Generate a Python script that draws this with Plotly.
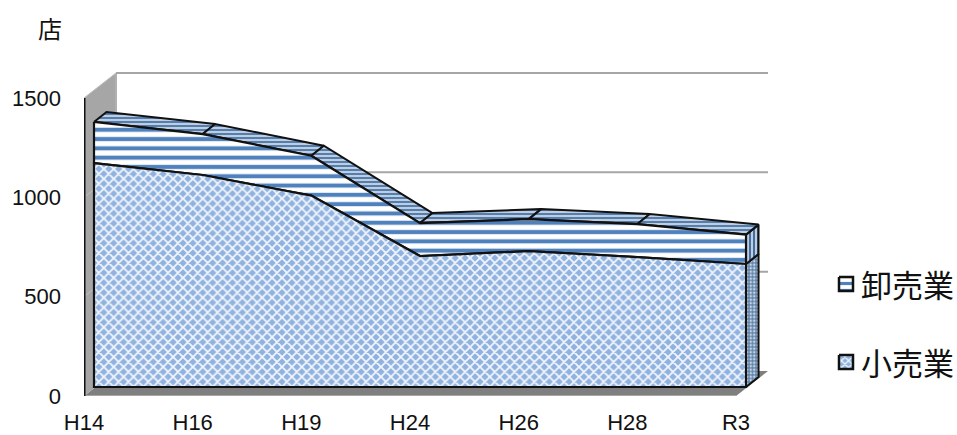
import plotly.graph_objects as go

categories = ["H14", "H16", "H19", "H24", "H26", "H28", "R3"]
retail = [1127, 1067, 963, 659, 684, 654, 619]
wholesale = [207, 206, 201, 166, 161, 166, 148]
y_ticks = [0, 500, 1000, 1500]
name_retail = "小売業"
name_wholesale = "卸売業"
unit_label = "店"

W, H = 957, 435
L, R, T, B = 84, 790, 60, 396
STEP_X = 108.67
STEP_Y = 0.1987
BLUE = "#4f81bd"
INK = "#111111"

# oblique depth offsets, in pixels
FRONT = (10, 9)
BACK = (22.5, 19)
WALL = (32, 25)


def ox(i, d):
    return i + d[0] / STEP_X


def oy(v, d):
    return v + d[1] / STEP_Y


def poly(xs, ys, color=None, line=None, width=0, pattern=None, axes=("x", "y")):
    kw = dict(x=xs + xs[:1], y=ys + ys[:1], mode="lines", fill="toself",
              hoverinfo="skip", showlegend=False, cliponaxis=False,
              xaxis=axes[0], yaxis=axes[1],
              line=dict(color=line or "rgba(0,0,0,0)", width=width, shape="linear"))
    if pattern:
        kw["fillpattern"] = pattern
        kw["fillcolor"] = pattern["bgcolor"]
    else:
        kw["fillcolor"] = color
    return go.Scatter(**kw)


def seg(xs, ys, color, width):
    return go.Scatter(x=xs, y=ys, mode="lines", hoverinfo="skip", showlegend=False,
                      cliponaxis=False, line=dict(color=color, width=width))


total = [a + b for a, b in zip(retail, wholesale)]
n = len(categories)
idx = list(range(n))
top_tick = max(y_ticks)
last = n - 1

stripes = dict(shape="-", size=9.3, solidity=0.44, fgcolor=BLUE, bgcolor="#ffffff", fgopacity=1)
lattice = dict(shape="x", size=7, solidity=0.45, fgcolor="#f2f6fc", bgcolor="#8fb2e0", fgopacity=1)
fine = dict(shape="-", size=4, solidity=0.5, fgcolor="#4f7fb8", bgcolor="#c4ccd6", fgopacity=1)
vfine = dict(shape="|", size=4, solidity=0.5, fgcolor="#3f6fa8", bgcolor="#c4ccd6", fgopacity=1)
dots = dict(shape=".", size=3.5, solidity=0.4, fgcolor="#c8d4e2", bgcolor="#5f82ab", fgopacity=1)

traces = []

# floor
traces.append(poly([0, last, ox(last, WALL), ox(0, WALL)],
                   [0, 0, oy(0, WALL), oy(0, WALL)], color="#7f7f7f"))
traces.append(seg([0, last], [0, 0], "#a6a6a6", 2))

# side wall and back wall edges
traces.append(poly([0, ox(0, WALL), ox(0, WALL), 0],
                   [top_tick, oy(top_tick, WALL), oy(0, WALL), 0], color="#a6a6a6"))
traces.append(seg([ox(0, WALL), ox(0, WALL)], [oy(0, WALL), oy(top_tick, WALL)], "#b0b0b0", 2))

# gridlines on the wall
for t in y_ticks[1:]:
    traces.append(seg([0, ox(0, WALL)], [t, oy(t, WALL)], "#bfbfbf", 1))
    traces.append(seg([ox(0, WALL), ox(last, WALL)], [oy(t, WALL), oy(t, WALL)], "#a6a6a6", 2))

traces.append(seg([0, 0], [0, top_tick], INK, 3))

# right side faces of the stack
traces.append(poly([ox(last, FRONT), ox(last, BACK), ox(last, BACK), ox(last, FRONT)],
                   [oy(0, FRONT), oy(0, BACK), oy(retail[last], BACK), oy(retail[last], FRONT)],
                   line=INK, width=2, pattern=dots))
traces.append(poly([ox(last, FRONT), ox(last, BACK), ox(last, BACK), ox(last, FRONT)],
                   [oy(retail[last], FRONT), oy(retail[last], BACK), oy(total[last], BACK), oy(total[last], FRONT)],
                   line=INK, width=2, pattern=vfine))

# top faces of the stack
for i in range(n - 1):
    traces.append(poly([ox(i, FRONT), ox(i + 1, FRONT), ox(i + 1, BACK), ox(i, BACK)],
                       [oy(total[i], FRONT), oy(total[i + 1], FRONT), oy(total[i + 1], BACK), oy(total[i], BACK)],
                       line=INK, width=2, pattern=fine))

# front faces of the stack
fx = [ox(i, FRONT) for i in idx]
traces.append(poly(fx + fx[::-1],
                   [oy(v, FRONT) for v in total] + [oy(v, FRONT) for v in retail[::-1]],
                   line=INK, width=2.2, pattern=stripes))
traces.append(poly(fx + fx[::-1],
                   [oy(v, FRONT) for v in retail] + [oy(0, FRONT)] * n,
                   line=INK, width=2.2, pattern=lattice))

# legend keys, on a full-page pixel subplot
px = ("x2", "y2")
traces.append(poly([839, 853, 853, 839], [277, 277, 291, 291], line=INK, width=2.5,
                   pattern=dict(stripes, size=7, solidity=0.45), axes=px))
traces.append(poly([839, 853, 853, 839], [355, 355, 369, 369], line=INK, width=2.5,
                   pattern=dict(lattice, size=5), axes=px))

fig = go.Figure(traces)

text_cjk = "Noto Sans CJK JP"
text_font = dict(family=text_cjk, size=31, color="#111111")
fig.add_annotation(x=859, y=283, xref="x2", yref="y2", text=name_wholesale, showarrow=False,
                   xanchor="left", yanchor="middle", font=text_font)
fig.add_annotation(x=859, y=361, xref="x2", yref="y2", text=name_retail, showarrow=False,
                   xanchor="left", yanchor="middle", font=text_font)
fig.add_annotation(x=50, y=27, xref="x2", yref="y2", text=unit_label, showarrow=False,
                   font=dict(family=text_cjk, size=24, color="#111111"))

tick_font = dict(family="Liberation Sans", size=22, color="#111111")
fig.update_layout(
    width=W, height=H, autosize=False,
    margin=dict(l=0, r=0, t=0, b=0, pad=0, autoexpand=False),
    paper_bgcolor="white", plot_bgcolor="rgba(0,0,0,0)", showlegend=False,
    xaxis=dict(domain=[L / W, R / W], anchor="y",
               range=[0, (R - L) / STEP_X], tickmode="array", tickvals=idx, ticktext=categories,
               showgrid=False, zeroline=False, showline=False, ticks="", tickfont=tick_font,
               ticklabelstandoff=11, tickangle=0, automargin=False),
    yaxis=dict(domain=[1 - B / H, 1 - T / H], anchor="x",
               range=[0, (B - T) / STEP_Y], tickmode="array", tickvals=y_ticks,
               showgrid=False, zeroline=False, showline=False, ticks="", tickfont=tick_font,
               ticklabelstandoff=22, automargin=False),
    xaxis2=dict(domain=[0, 1], anchor="y2", range=[0, W], visible=False),
    yaxis2=dict(domain=[0, 1], anchor="x2", range=[H, 0], visible=False),
)
fig.write_html("out.html", config={"displayModeBar": False},
               post_script="document.body.style.margin='0';")
